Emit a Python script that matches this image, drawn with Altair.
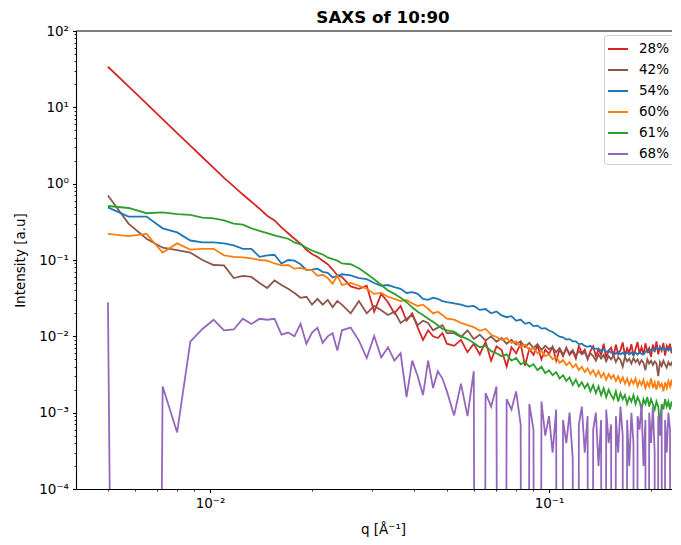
import altair as alt
import pandas as pd

Z = 1e-30  # non-positive readings: drawn straight down off the log axis

# q grid [1/Angstrom]
Q_A = [0.005, 0.00575, 0.0065, 0.00725, 0.008, 0.00875, 0.0095, 0.01025, 0.011, 0.01175,
       0.0125, 0.01325, 0.014, 0.01475, 0.0155, 0.01625, 0.017, 0.01775, 0.0185, 0.01925,
       0.02, 0.02075, 0.0215, 0.02225, 0.023, 0.02375, 0.0245]
Q_B = [0.026, 0.0275, 0.029, 0.0305, 0.032, 0.0335, 0.035, 0.0365, 0.038, 0.0395,
       0.041, 0.0425, 0.044, 0.0455, 0.047, 0.0485, 0.05]
Q_C = [0.0525, 0.055, 0.0575, 0.06, 0.0625, 0.065, 0.0675, 0.07, 0.0725, 0.075,
       0.0775, 0.08, 0.0825, 0.085, 0.0875, 0.09, 0.0925, 0.095, 0.0975, 0.1,
       0.1025, 0.105, 0.1075, 0.11, 0.1125, 0.115, 0.1175, 0.12, 0.1225, 0.125,
       0.1275, 0.13, 0.1325, 0.135, 0.1375, 0.14, 0.1425, 0.145, 0.1475, 0.15,
       0.1525, 0.155, 0.1575, 0.16, 0.1625, 0.165, 0.1675, 0.17, 0.1725, 0.175,
       0.1775, 0.18, 0.1825, 0.185, 0.1875, 0.19, 0.1925, 0.195, 0.1975, 0.2,
       0.2025, 0.205, 0.2075, 0.21, 0.2125, 0.215, 0.2175, 0.22, 0.2225, 0.225,
       0.2275, 0.23, 0.2325, 0.235, 0.2375, 0.24, 0.2425, 0.245]

# 28%
RED_A = [34, 18.8, 11.2, 7.0, 4.6, 3.15, 2.22, 1.61, 1.19, 0.92,
         0.72, 0.58, 0.47, 0.38, 0.33, 0.267, 0.224, 0.19, 0.164, 0.136,
         0.12, 0.11, 0.098, 0.088, 0.075, 0.063, 0.060]
RED_B = [0.045, 0.042, 0.046, 0.021, 0.036, 0.028, 0.020, 0.025, 0.016, 0.020,
         0.013, 0.009, 0.012, 0.010, 0.0095, 0.011, 0.008]
RED_C = [0.0075, 0.0090, 0.0062, 0.0080, 0.0058, 0.0085, 0.0048, 0.0074, 0.0066, 0.0040,
         0.0072, 0.0060, 0.0080, 0.0041, 0.0069, 0.0057, 0.0076, 0.0050, 0.0067, 0.0059,
         0.0073, 0.0048, 0.0068, 0.0055, 0.0071, 0.0057, 0.0064, 0.0051, 0.0075, 0.0060,
         0.0067, 0.0050, 0.0064, 0.0074, 0.0055, 0.0068, 0.0057, 0.0080, 0.0052, 0.0065,
         0.0071, 0.0054, 0.0078, 0.0058, 0.0066, 0.0083, 0.0056, 0.0070, 0.0061, 0.0079,
         0.0055, 0.0068, 0.0084, 0.0059, 0.0072, 0.0057, 0.0081, 0.0063, 0.0070, 0.0054,
         0.0078, 0.0062, 0.0086, 0.0058, 0.0073, 0.0065, 0.0082, 0.0056, 0.0075, 0.0068,
         0.0080, 0.0060, 0.0074, 0.0066, 0.0085, 0.0059, 0.0072, 0.0068]

# 42%
BROWN_A = [0.70, 0.30, 0.19, 0.145, 0.135, 0.125, 0.100, 0.086, 0.085, 0.058,
           0.062, 0.060, 0.050, 0.043, 0.054, 0.047, 0.042, 0.037, 0.032, 0.033,
           0.026, 0.031, 0.026, 0.030, 0.024, 0.029, 0.026]
BROWN_B = [0.020, 0.029, 0.020, 0.025, 0.022, 0.019, 0.021, 0.015, 0.017, 0.019,
           0.014, 0.016, 0.015, 0.012, 0.013, 0.014, 0.011]
BROWN_C = [0.0110, 0.0098, 0.0120, 0.0092, 0.0105, 0.0088, 0.0100, 0.0085, 0.0095, 0.0080,
           0.0090, 0.0078, 0.0086, 0.0072, 0.0082, 0.0070, 0.0079, 0.0066, 0.0075, 0.0068,
           0.0072, 0.0062, 0.0070, 0.0058, 0.0068, 0.0060, 0.0066, 0.0055, 0.0064, 0.0058,
           0.0062, 0.0052, 0.0060, 0.0055, 0.0048, 0.0058, 0.0051, 0.0057, 0.0047, 0.0055,
           0.0050, 0.0056, 0.0046, 0.0053, 0.0049, 0.0040, 0.0054, 0.0047, 0.0051, 0.0044,
           0.0052, 0.0046, 0.0050, 0.0043, 0.0049, 0.0045, 0.0036, 0.0050, 0.0044, 0.0048,
           0.0042, 0.0047, 0.0044, 0.0030, 0.0046, 0.0041, 0.0048, 0.0043, 0.0039, 0.0046,
           0.0042, 0.0045, 0.0038, 0.0044, 0.0040, 0.0043, 0.0039, 0.0042]

# 54%
BLUE_A = [0.49, 0.37, 0.37, 0.26, 0.23, 0.18, 0.17, 0.17, 0.165, 0.155,
          0.14, 0.14, 0.11, 0.115, 0.117, 0.09, 0.10, 0.098, 0.088, 0.074,
          0.075, 0.077, 0.070, 0.068, 0.059, 0.062, 0.065]
BLUE_B = [0.063, 0.058, 0.056, 0.050, 0.046, 0.047, 0.044, 0.042, 0.037, 0.038,
          0.036, 0.031, 0.030, 0.032, 0.031, 0.029, 0.028]
BLUE_C = [0.027, 0.026, 0.0245, 0.025, 0.0222, 0.0228, 0.0200, 0.0212, 0.0188, 0.0178,
          0.0184, 0.0160, 0.0166, 0.0146, 0.0152, 0.0136, 0.0138, 0.0126, 0.0128, 0.0119,
          0.0114, 0.0106, 0.0099, 0.0097, 0.0091, 0.0092, 0.0086, 0.0086, 0.0079, 0.0080,
          0.0075, 0.0073, 0.0075, 0.0069, 0.0069, 0.0068, 0.0065, 0.0068, 0.0062, 0.0065,
          0.0061, 0.0062, 0.0059, 0.0063, 0.0058, 0.0061, 0.0057, 0.0062, 0.0058, 0.0061,
          0.0057, 0.0061, 0.0058, 0.0062, 0.0059, 0.0058, 0.0063, 0.0064, 0.0061, 0.0067,
          0.0068, 0.0065, 0.0071, 0.0068, 0.0071, 0.0067, 0.0071, 0.0066, 0.0070, 0.0065,
          0.0069, 0.0065, 0.0068, 0.0064, 0.0068, 0.0066, 0.0069, 0.0066]

# 60%
ORANGE_A = [0.22, 0.205, 0.22, 0.125, 0.165, 0.137, 0.14, 0.14, 0.115, 0.11,
            0.108, 0.105, 0.10, 0.098, 0.090, 0.085, 0.086, 0.077, 0.079, 0.075,
            0.073, 0.062, 0.064, 0.058, 0.049, 0.062, 0.047]
ORANGE_B = [0.050, 0.046, 0.042, 0.036, 0.037, 0.033, 0.031, 0.029, 0.030, 0.027,
            0.025, 0.026, 0.023, 0.020, 0.021, 0.019, 0.017]
ORANGE_C = [0.0165, 0.0150, 0.0140, 0.0132, 0.0118, 0.0125, 0.0105, 0.0098, 0.0090, 0.0095,
            0.0082, 0.0086, 0.0073, 0.0078, 0.0066, 0.0070, 0.0060, 0.0064, 0.0055, 0.0058,
            0.0050, 0.0054, 0.0045, 0.0049, 0.0042, 0.0046, 0.0039, 0.0043, 0.0036, 0.0040,
            0.0034, 0.0038, 0.0032, 0.0036, 0.0030, 0.0035, 0.0029, 0.0033, 0.0027, 0.0032,
            0.0028, 0.0031, 0.0026, 0.0030, 0.0025, 0.0029, 0.0024, 0.0028, 0.0023, 0.0027,
            0.0024, 0.0028, 0.0022, 0.0026, 0.0023, 0.0027, 0.0021, 0.0025, 0.0022, 0.0028,
            0.0021, 0.0025, 0.0020, 0.0026, 0.0022, 0.0024, 0.0019, 0.0025, 0.0021, 0.0026,
            0.0022, 0.0027, 0.0020, 0.0025, 0.0023, 0.0028, 0.0021, 0.0024]

# 61%
GREEN_A = [0.51, 0.48, 0.41, 0.42, 0.40, 0.39, 0.36, 0.35, 0.33, 0.30,
           0.29, 0.26, 0.24, 0.225, 0.21, 0.20, 0.19, 0.17, 0.16, 0.145,
           0.133, 0.125, 0.118, 0.108, 0.103, 0.098, 0.090]
GREEN_B = [0.088, 0.078, 0.066, 0.056, 0.047, 0.040, 0.036, 0.032, 0.028, 0.024,
           0.021, 0.019, 0.017, 0.0155, 0.014, 0.0125, 0.012]
GREEN_C = [0.0115, 0.0100, 0.0092, 0.0082, 0.0072, 0.0075, 0.0064, 0.0060, 0.0055, 0.0058,
           0.0048, 0.0052, 0.0043, 0.0046, 0.0040, 0.0043, 0.0036, 0.0040, 0.0033, 0.0036,
           0.0031, 0.0034, 0.0028, 0.0031, 0.0026, 0.0029, 0.0023, 0.0027, 0.0022, 0.0025,
           0.0021, 0.0024, 0.0019, 0.0023, 0.0018, 0.0022, 0.0017, 0.0021, 0.0016, 0.0020,
           0.0017, 0.0015, 0.0019, 0.0014, 0.0018, 0.0015, 0.0017, 0.0013, 0.0016, 0.0014,
           0.0017, 0.0013, 0.0016, 0.0014, 0.0011, 0.0015, 0.0013, 0.0016, 0.0012, 0.0015,
           0.0013, 0.0011, 0.0014, 0.0012, 0.0007, 0.0013, 0.0011, 0.0015, 0.0012, 0.0014,
           0.0011, 0.0014, 0.0012, 0.0015, 0.0011, 0.0013, 0.0012, 0.0014]

# 68%
PURPLE_A = [0.028, Z, Z, 0.0022, 0.00055, 0.0085, 0.0125, 0.0165, 0.012, 0.0123,
            0.017, 0.0145, 0.017, 0.0165, 0.017, 0.0105, 0.0112, 0.0100, 0.0146, 0.0080,
            0.0112, 0.0129, 0.0082, 0.0100, 0.0110, 0.0065, 0.012]
PURPLE_B = [0.013, 0.0088, 0.0052, 0.0101, 0.0053, 0.0072, 0.0048, 0.0060, 0.0016, 0.0048,
            0.0030, 0.0017, 0.0048, 0.0021, 0.0035, 0.0028, 0.0019]
PURPLE_C = [0.00092, 0.0024, 0.0009, 0.0035, Z, 0.0018, 0.0012, 0.0022, Z, 0.0015,
            0.0011, 0.0019, 0.0007, Z, 0.0013, 0.0006, Z, 0.0014, 0.0005, 0.0009,
            0.0003, 0.0011, Z, 0.0008, 0.0004, 0.0010, 0.00025, Z, 0.0007, 0.0012,
            0.0003, 0.0009, Z, 0.0006, 0.0010, 0.0002, 0.0008, Z, 0.0011, 0.0004,
            0.0007, Z, 0.0009, 0.0003, 0.0012, 0.0005, Z, 0.0008, 0.0002, 0.0010,
            0.0004, Z, 0.0009, 0.0006, 0.0013, 0.0002, 0.0008, Z, 0.0010, 0.0004,
            0.0012, 0.0003, Z, 0.0009, 0.0005, 0.0011, Z, 0.0008, 0.0003, 0.0010,
            0.0006, Z, 0.0009, 0.0004, 0.0011, 0.0002, 0.0008, 0.0005]

SERIES = ["28%", "42%", "54%", "60%", "61%", "68%"]
COLORS = ["#d62728", "#8c564b", "#1f77b4", "#ff7f0e", "#2ca02c", "#9467bd"]
VALUES = {
    "28%": RED_A + RED_B + RED_C,
    "42%": BROWN_A + BROWN_B + BROWN_C,
    "54%": BLUE_A + BLUE_B + BLUE_C,
    "60%": ORANGE_A + ORANGE_B + ORANGE_C,
    "61%": GREEN_A + GREEN_B + GREEN_C,
    "68%": PURPLE_A + PURPLE_B + PURPLE_C,
}
Q = Q_A + Q_B + Q_C

rows = []
for s in SERIES:
    vals = VALUES[s]
    assert len(vals) == len(Q), (s, len(vals), len(Q))
    for q, v in zip(Q, vals):
        rows.append({"q": q, "I": v, "series": s})
df = pd.DataFrame(rows)

X_TICKS = [0.005, 0.006, 0.007, 0.008, 0.009, 0.01, 0.02, 0.03, 0.04, 0.05,
           0.06, 0.07, 0.08, 0.09, 0.1, 0.2]
Y_TICKS = [m * 10.0 ** e for e in range(-4, 2) for m in range(1, 10)] + [100.0]

W, H = 596, 458
FONT = "DejaVu Sans"
IS_MAJOR = "abs(log(datum.value)/LN10 - round(log(datum.value)/LN10)) < 0.001"
EXP = "round(log(datum.value)/LN10)"
LABEL = (f"{IS_MAJOR} ? ({EXP} == 2 ? '10²' : {EXP} == 1 ? '10¹' : {EXP} == 0 ? '10⁰' : "
         f"{EXP} == -1 ? '10⁻¹' : {EXP} == -2 ? '10⁻²' : {EXP} == -3 ? '10⁻³' : '10⁻⁴') : ''")
TICK_SIZE = {"condition": {"test": IS_MAJOR, "value": 3.5}, "value": 2}
TICK_WIDTH = {"condition": {"test": IS_MAJOR, "value": 1.1}, "value": 0.8}

x_axis = alt.Axis(values=X_TICKS, labelExpr=LABEL, title="q [Å⁻¹]", grid=False,
                  tickSize=TICK_SIZE, tickWidth=TICK_WIDTH, labelPadding=4,
                  labelFlush=False, labelOverlap=False, titleX=307, titleY=44,
                  titleBaseline="alphabetic", titleAlign="center")
y_axis = alt.Axis(values=Y_TICKS, labelExpr=LABEL, title="Intensity [a.u]", grid=False,
                  tickSize=TICK_SIZE, tickWidth=TICK_WIDTH, labelPadding=4,
                  labelFlush=False, labelOverlap=False, titleX=-52, titleY=229,
                  titleAngle=270, titleBaseline="alphabetic", titleAlign="center")

lines = alt.Chart(df).mark_line(clip=True, strokeWidth=1.8).encode(
    x=alt.X("q:Q", scale=alt.Scale(type="log", domain=[0.004025, 0.2306], nice=False),
            axis=x_axis),
    y=alt.Y("I:Q", scale=alt.Scale(type="log", domain=[1e-4, 1e2], nice=False),
            axis=y_axis),
    color=alt.Color("series:N", sort=SERIES,
                    scale=alt.Scale(domain=SERIES, range=COLORS),
                    legend=alt.Legend(title=None, orient="none", legendX=528, legendY=4,
                                      symbolType="stroke", symbolSize=400,
                                      symbolStrokeWidth=2, labelFont=FONT,
                                      labelFontSize=13.5, labelColor="black",
                                      labelOffset=10, rowPadding=3, padding=3,
                                      strokeColor="#cccccc", fillColor="white",
                                      cornerRadius=3)),
)

top_spine = alt.Chart(pd.DataFrame({"v": [0]})).mark_rule(
    color="black", strokeWidth=1.1).encode(
    x=alt.value(0), x2=alt.value(W), y=alt.value(0))

chart = alt.layer(lines, top_spine).properties(
    width=W, height=H,
    title=alt.TitleParams("SAXS of 10:90", font=FONT, fontSize=16.7, fontWeight="bold",
                          color="black", anchor="middle", dx=9, dy=8, offset=5),
    autosize=alt.AutoSizeParams(type="none"),
    padding={"left": 68, "top": 23, "right": 0, "bottom": 48},
).configure_view(strokeWidth=0).configure_axis(
    domainColor="black", domainWidth=1.1, tickColor="black",
    labelFont=FONT, labelFontSize=13.5, labelColor="black",
    titleFont=FONT, titleFontSize=13.5, titleFontWeight="normal", titleColor="black",
)

chart.save("out.html", embed_options={"renderer": "svg", "actions": False})
